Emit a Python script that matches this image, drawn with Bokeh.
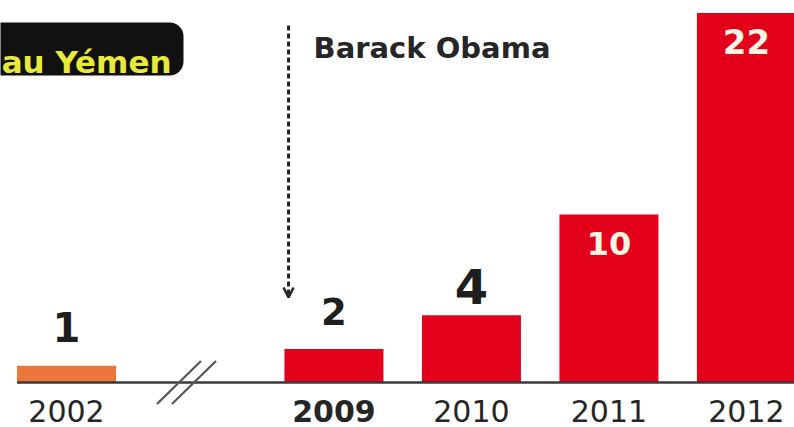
from bokeh.plotting import figure
from bokeh.models import Range1d, ColumnDataSource, Arrow, OpenHead, BoxAnnotation
from bokeh.core.properties import value
from bokeh.embed import file_html
from bokeh.resources import INLINE

# ---- data ----
years = ["2002", "2009", "2010", "2011", "2012"]
strikes = [1, 2, 4, 10, 22]
annotation_text = "Barack Obama"
title_text = "au Yémen"

# ---- layout / style ----
W, H = 794, 427
PX_X = 137.5          # pixels per category step
PX_Y = 16.8           # pixels per strike
GAP = 1.945           # step between 2002 and 2009 (axis break)
BAR_W = 0.72
x_pos = [0.0] + [GAP + i for i in range(len(years) - 1)]
x0 = -66 / PX_X
y0 = -(H - 382) / PX_Y
x1 = x0 + W / PX_X
y1 = y0 + H / PX_Y

def px_x(px):
    return x0 + px / PX_X

def px_y(py):
    return y1 - py / PX_Y

RED = "#E3001B"
ORANGE = "#EC773C"
DARK = "#1E1E1E"
CREAM = "#FFF4E4"
bar_colors = [ORANGE] + [RED] * (len(years) - 1)
lbl_colors = [DARK, DARK, DARK, CREAM, CREAM]
lbl_sizes = ["40px", "37px", "48px", "32px", "34px"]
lbl_offsets = [-38.5, -37, -29, 28.5, 28.5]
year_styles = ["normal", "bold", "normal", "normal", "normal"]
FONT = "DejaVu Sans"

p = figure(width=W, height=H, x_range=Range1d(x0, x1), y_range=Range1d(y0, y1),
           min_border=0, toolbar_location=None, output_backend="svg",
           outline_line_color=None, background_fill_color="white",
           border_fill_color="white")
p.axis.visible = False
p.grid.visible = False

src = ColumnDataSource(dict(x=x_pos, top=strikes, year=years, color=bar_colors,
                            lcolor=lbl_colors, lsize=lbl_sizes, loff=lbl_offsets,
                            ystyle=year_styles, label=[str(v) for v in strikes]))

p.vbar(x="x", top="top", bottom=0, width=BAR_W, fill_color="color",
       line_color=None, source=src)

# baseline
p.segment(x0=[x_pos[0] - BAR_W / 2], y0=[0], x1=[x1 + 1], y1=[0],
          line_color="#3A3A3A", line_width=2.5)

# axis break marks
bx = (x_pos[0] + x_pos[1]) / 2 - 0.1
dxs = 22 / PX_X
dys = 21.5 / PX_Y
sep = 15 / PX_X
p.segment(x0=[bx - sep / 2 - dxs, bx + sep / 2 - dxs], y0=[-dys, -dys],
          x1=[bx - sep / 2 + dxs, bx + sep / 2 + dxs], y1=[dys, dys],
          line_color="#555555", line_width=2.2)

# value labels
p.text(x="x", y="top", text="label", source=src, text_align="center",
       text_baseline="middle", y_offset="loff", text_color="lcolor",
       text_font_size="lsize", text_font=value(FONT), text_font_style="bold")

# year labels
for xi, yr, st in zip(x_pos, years, year_styles):
    p.text(x=[xi], y=[0], text=[yr], text_align="center", text_baseline="middle",
           y_offset=28, text_color="#262626", text_font_size="30px",
           text_font=value(FONT), text_font_style=st)

# Obama arrow + label
ax = x_pos[1] - 0.33
p.add_layout(Arrow(end=OpenHead(size=10, line_width=2.5, line_color="#262626"),
                   x_start=ax, y_start=px_y(25), x_end=ax, y_end=px_y(297),
                   line_color="#262626", line_width=3, line_dash="5 3"))
p.text(x=[ax], y=[px_y(25)], text=[annotation_text], x_offset=25, y_offset=22,
       text_align="left", text_baseline="alphabetic", text_color="#262626",
       text_font_size="29px", text_font=value(FONT), text_font_style="bold")

# title box (cropped)
p.add_layout(BoxAnnotation(left=x0 - 1, right=px_x(183), top=px_y(22), bottom=px_y(75),
                           fill_color="#111111", fill_alpha=1, line_color=None,
                           border_radius=14, level="underlay"))
p.text(x=[px_x(171)], y=[px_y(61)], text=[title_text], text_align="right",
       text_baseline="alphabetic", text_color="#E8EA3A", text_font_size="31px",
       text_font=value(FONT), text_font_style="bold")

open("out.html", "w").write(file_html(p, INLINE))
